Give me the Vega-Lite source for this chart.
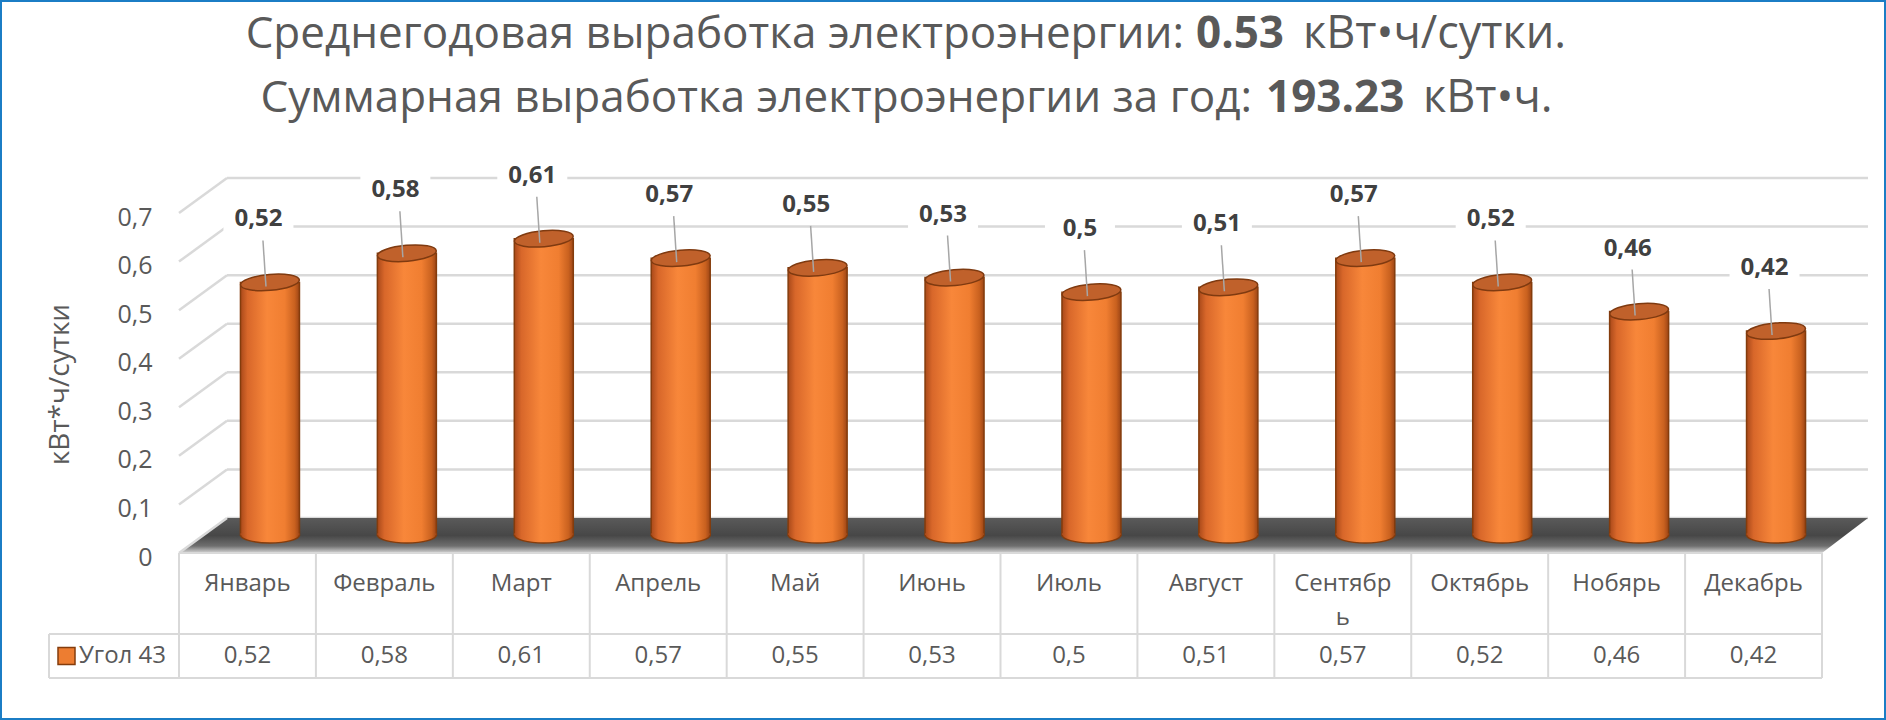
{
  "$schema": "https://vega.github.io/schema/vega-lite/v6.json",
  "autosize": {"type": "none"},
  "width": 1643,
  "height": 340,
  "padding": {"left": 179, "top": 195, "right": 64, "bottom": 185},
  "background": "white",
  "config": {"view": {"stroke": null}, "font": "Open Sans"},
  "datasets": {
    "months": [
      {"month": "Январь", "label": "Январь", "value": 0.52},
      {"month": "Февраль", "label": "Февраль", "value": 0.58},
      {"month": "Март", "label": "Март", "value": 0.61},
      {"month": "Апрель", "label": "Апрель", "value": 0.57},
      {"month": "Май", "label": "Май", "value": 0.55},
      {"month": "Июнь", "label": "Июнь", "value": 0.53},
      {"month": "Июль", "label": "Июль", "value": 0.5},
      {"month": "Август", "label": "Август", "value": 0.51},
      {"month": "Сентябрь", "label": "Сентябр\nь", "value": 0.57},
      {"month": "Октябрь", "label": "Октябрь", "value": 0.52},
      {"month": "Нобярь", "label": "Нобярь", "value": 0.46},
      {"month": "Декабрь", "label": "Декабрь", "value": 0.42}
    ],
    "ticks": [{"v": 0}, {"v": 0.1}, {"v": 0.2}, {"v": 0.3}, {"v": 0.4}, {"v": 0.5}, {"v": 0.6}, {"v": 0.7}],
    "series": [{"name": "Угол 43"}]
  },
  "data": {"name": "months"},
  "layer": [
    {
      "data": {"name": "ticks"},
      "mark": {"type": "rule", "color": "#d9d9d9", "strokeWidth": 2.5, "yOffset": -17},
      "encoding": {
        "x": {"value": 48},
        "x2": {"value": 1689},
        "y": {
          "field": "v", "type": "quantitative",
          "scale": {"domain": [0, 0.7], "nice": false, "zero": true},
          "axis": {
            "title": "кВт*ч/сутки",
            "labelExpr": "replace(format(datum.value, '.1~f'), '.', ',')",
            "values": [0, 0.1, 0.2, 0.3, 0.4, 0.5, 0.6, 0.7],
            "domain": false, "ticks": false, "grid": false,
            "labelPadding": 27, "labelOffset": 22,
            "labelFont": "Open Sans", "labelFontSize": 25, "labelColor": "#595959",
            "titleFont": "Open Sans", "titleFontSize": 28, "titleFontWeight": "normal", "titleColor": "#595959",
            "titleX": -119, "titleY": 189, "titleAngle": -90, "titleAlign": "center", "titleBaseline": "middle"
          }
        }
      }
    },
    {
      "data": {"values": [{}]},
      "mark": {
        "type": "point", "filled": true, "opacity": 1, "strokeWidth": 0,
        "shape": "M-1,0.0207L0.9455,0.0207L1,-0.0207L-0.9432,-0.0207Z",
        "size": 2852721,
        "fill": {"gradient": "linear", "x1": 0, "y1": 0, "x2": 0, "y2": 1,
          "stops": [{"offset": 0, "color": "#5a5a5a"}, {"offset": 0.5, "color": "#474747"}, {"offset": 0.8, "color": "#6f6f6f"}, {"offset": 1, "color": "#d4d4d4"}]},
        "yOffset": 0.5
      },
      "encoding": {"x": {"value": 844.5}, "y": {"datum": 0, "type": "quantitative"}}
    },
    {
      "data": {"name": "ticks"},
      "mark": {"type": "rule", "color": "#d9d9d9", "strokeWidth": 2.5, "yOffset": 18, "y2Offset": -17},
      "encoding": {
        "x": {"value": 0}, "x2": {"value": 48},
        "y": {"field": "v", "type": "quantitative"}, "y2": {"field": "v"}
      }
    },
    {
      "mark": {"type": "point", "filled": true, "fill": "white", "opacity": 1, "strokeWidth": 0,
        "shape": "M-1,-0.43L1,-0.43L1,0.43L-1,0.43Z", "size": 4900, "xOffset": 11, "yOffset": -63},
      "encoding": {
        "x": {"field": "month", "type": "nominal", "sort": null, "scale": {"type": "band", "paddingInner": 0, "paddingOuter": 0}, "axis": null},
        "y": {"field": "value", "type": "quantitative"}
      }
    },
    {
      "mark": {"type": "rule", "color": "#d9d9d9", "strokeWidth": 2, "yOffset": 18, "y2Offset": 143},
      "encoding": {
        "x": {"field": "month", "type": "nominal", "sort": null, "bandPosition": 0},
        "y": {"datum": 0, "type": "quantitative"}, "y2": {"datum": 0}
      }
    },
    {
      "data": {"values": [{}]},
      "mark": {"type": "rule", "color": "#d9d9d9", "strokeWidth": 2, "yOffset": 18, "y2Offset": 143},
      "encoding": {"x": {"value": "width"}, "y": {"datum": 0, "type": "quantitative"}, "y2": {"datum": 0}}
    },
    {
      "data": {"values": [{}]},
      "mark": {"type": "rule", "color": "#d9d9d9", "strokeWidth": 2, "yOffset": 99, "y2Offset": 143},
      "encoding": {"x": {"value": -130}, "y": {"datum": 0, "type": "quantitative"}, "y2": {"datum": 0}}
    },
    {
      "data": {"values": [{}]},
      "mark": {"type": "rule", "color": "#d9d9d9", "strokeWidth": 2, "yOffset": 18},
      "encoding": {"x": {"value": 0}, "x2": {"value": "width"}, "y": {"datum": 0, "type": "quantitative"}}
    },
    {
      "data": {"values": [{}]},
      "mark": {"type": "rule", "color": "#d9d9d9", "strokeWidth": 2, "yOffset": 99},
      "encoding": {"x": {"value": -130}, "x2": {"value": "width"}, "y": {"datum": 0, "type": "quantitative"}}
    },
    {
      "data": {"values": [{}]},
      "mark": {"type": "rule", "color": "#d9d9d9", "strokeWidth": 2, "yOffset": 143},
      "encoding": {"x": {"value": -130}, "x2": {"value": "width"}, "y": {"datum": 0, "type": "quantitative"}}
    },
    {
      "mark": {
        "type": "bar", "width": 59, "xOffset": 22.5, "stroke": "#843C0C", "strokeWidth": 1.5,
        "fill": {"gradient": "linear", "x1": 0, "y1": 0, "x2": 1, "y2": 0,
          "stops": [{"offset": 0, "color": "#A9491A"}, {"offset": 0.12, "color": "#D8672A"}, {"offset": 0.45, "color": "#F8873A"}, {"offset": 0.75, "color": "#F07E31"}, {"offset": 0.92, "color": "#C9611F"}, {"offset": 1, "color": "#9C4516"}]}
      },
      "encoding": {
        "x": {"field": "month", "type": "nominal", "sort": null},
        "y": {"field": "value", "type": "quantitative"}
      }
    },
    {
      "mark": {
        "type": "point", "filled": true, "opacity": 1, "strokeWidth": 0, "xOffset": 22.5,
        "shape": "M-1,-0.06L1,-0.06L1,0A1,0.27,0,0,1,-1,0Z", "size": 3481,
        "fill": {"gradient": "linear", "x1": 0, "y1": 0, "x2": 1, "y2": 0,
          "stops": [{"offset": 0, "color": "#A9491A"}, {"offset": 0.12, "color": "#D8672A"}, {"offset": 0.45, "color": "#F8873A"}, {"offset": 0.75, "color": "#F07E31"}, {"offset": 0.92, "color": "#C9611F"}, {"offset": 1, "color": "#9C4516"}]}
      },
      "encoding": {
        "x": {"field": "month", "type": "nominal", "sort": null},
        "y": {"datum": 0, "type": "quantitative"}
      }
    },
    {
      "mark": {"type": "point", "filled": false, "color": "#843C0C", "opacity": 1, "strokeWidth": 1.5, "xOffset": 22.5,
        "shape": "M-1,0A1,0.27,0,0,0,1,0", "size": 3481},
      "encoding": {
        "x": {"field": "month", "type": "nominal", "sort": null},
        "y": {"datum": 0, "type": "quantitative"}
      }
    },
    {
      "mark": {"type": "point", "filled": true, "opacity": 1, "fill": "#C0612B", "stroke": "#7F3A10", "strokeWidth": 1.5, "xOffset": 22.5, "angle": -5,
        "shape": "M-1,0A1,0.27,0,1,1,1,0A1,0.27,0,1,1,-1,0Z", "size": 3481},
      "encoding": {
        "x": {"field": "month", "type": "nominal", "sort": null},
        "y": {"field": "value", "type": "quantitative"}
      }
    },
    {
      "mark": {"type": "rule", "color": "#a6a6a6", "strokeWidth": 1.5, "xOffset": 18.5, "x2Offset": 15.5, "yOffset": 4, "y2Offset": -42},
      "encoding": {
        "x": {"field": "month", "type": "nominal", "sort": null}, "x2": {"field": "month"},
        "y": {"field": "value", "type": "quantitative"}, "y2": {"field": "value"}
      }
    },
    {
      "mark": {"type": "text", "font": "Open Sans", "fontSize": 24, "fontWeight": "bold", "color": "#404040", "xOffset": 11, "yOffset": -63, "baseline": "middle", "align": "center",
        "text": {"expr": "replace(format(datum.value, '.2~f'), '.', ',')"}},
      "encoding": {
        "x": {"field": "month", "type": "nominal", "sort": null},
        "y": {"field": "value", "type": "quantitative"}
      }
    },
    {
      "mark": {"type": "text", "font": "Open Sans", "fontSize": 24, "color": "#595959", "yOffset": 56, "baseline": "alphabetic", "align": "center", "lineBreak": "\n", "lineHeight": 34},
      "encoding": {
        "x": {"field": "month", "type": "nominal", "sort": null},
        "y": {"datum": 0, "type": "quantitative"},
        "text": {"field": "label", "type": "nominal"}
      }
    },
    {
      "mark": {"type": "text", "font": "Open Sans", "fontSize": 24, "color": "#595959", "yOffset": 128, "baseline": "alphabetic", "align": "center",
        "text": {"expr": "replace(format(datum.value, '.2~f'), '.', ',')"}},
      "encoding": {
        "x": {"field": "month", "type": "nominal", "sort": null},
        "y": {"datum": 0, "type": "quantitative"}
      }
    },
    {
      "data": {"name": "series"},
      "mark": {"type": "point", "shape": "square", "filled": true, "fill": "#ED7D31", "stroke": "#843C0C", "strokeWidth": 1.5, "opacity": 1, "size": 289, "yOffset": 121},
      "encoding": {"x": {"value": -112.5}, "y": {"datum": 0, "type": "quantitative"}}
    },
    {
      "data": {"name": "series"},
      "mark": {"type": "text", "font": "Open Sans", "fontSize": 24, "color": "#595959", "align": "left", "baseline": "alphabetic", "yOffset": 128},
      "encoding": {"x": {"value": -100}, "y": {"datum": 0, "type": "quantitative"}, "text": {"field": "name", "type": "nominal"}}
    },
    {
      "data": {"values": [{}]},
      "mark": {"type": "text", "text": "Среднегодовая выработка электроэнергии:", "font": "Open Sans", "fontSize": 44, "color": "#595959", "align": "right", "baseline": "alphabetic"},
      "encoding": {"x": {"value": 1005}, "y": {"value": -147}}
    },
    {
      "data": {"values": [{}]},
      "mark": {"type": "text", "text": "0.53", "font": "Open Sans", "fontSize": 44, "fontWeight": "bold", "color": "#595959", "align": "left", "baseline": "alphabetic"},
      "encoding": {"x": {"value": 1017}, "y": {"value": -147}}
    },
    {
      "data": {"values": [{}]},
      "mark": {"type": "text", "text": "кВт•ч/сутки.", "font": "Open Sans", "fontSize": 45, "color": "#595959", "align": "left", "baseline": "alphabetic"},
      "encoding": {"x": {"value": 1124}, "y": {"value": -147}}
    },
    {
      "data": {"values": [{}]},
      "mark": {"type": "text", "text": "Суммарная выработка электроэнергии за год:", "font": "Open Sans", "fontSize": 44, "color": "#595959", "align": "right", "baseline": "alphabetic"},
      "encoding": {"x": {"value": 1073}, "y": {"value": -83}}
    },
    {
      "data": {"values": [{}]},
      "mark": {"type": "text", "text": "193.23", "font": "Open Sans", "fontSize": 44, "fontWeight": "bold", "color": "#595959", "align": "left", "baseline": "alphabetic"},
      "encoding": {"x": {"value": 1087}, "y": {"value": -83}}
    },
    {
      "data": {"values": [{}]},
      "mark": {"type": "text", "text": "кВт•ч.", "font": "Open Sans", "fontSize": 45, "color": "#595959", "align": "left", "baseline": "alphabetic"},
      "encoding": {"x": {"value": 1244}, "y": {"value": -83}}
    },
    {
      "data": {"values": [{}]},
      "mark": {"type": "rect", "filled": false, "color": "#1B7DC5", "strokeWidth": 2},
      "encoding": {"x": {"value": -178}, "x2": {"value": 1706}, "y": {"value": -194}, "y2": {"value": 524}}
    }
  ]
}
